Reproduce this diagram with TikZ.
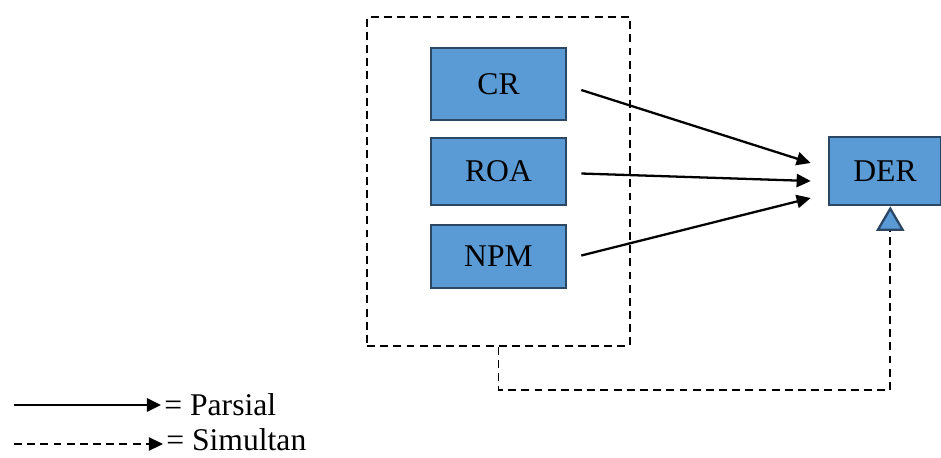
\documentclass[tikz,border=0pt]{standalone}
\usepackage{fontspec}
\setmainfont{Liberation Serif}
\usetikzlibrary{arrows.meta,calc}
\definecolor{boxblue}{HTML}{5B9BD5}
\definecolor{boxline}{HTML}{2B4764}

\begin{document}
\begin{tikzpicture}[x=0.02cm, y=-0.02cm,
    var/.style={draw=boxline, fill=boxblue, line width=1.5pt, inner sep=0pt,
        minimum width=2.7cm, font=\fontsize{18}{20}\selectfont},
    parsial/.style={-{Triangle[length=8pt, width=7.5pt]}, line width=1.3pt},
    simultan/.style={dash pattern=on 4.5pt off 3pt, line width=1pt},
    legend/.style={anchor=base west, inner sep=0pt, font=\fontsize{18}{20}\selectfont}]
    \useasboundingbox (0,0) rectangle (941,457);

    % variabel bebas dalam kotak putus-putus
    \node[simultan, draw, inner sep=0pt, minimum width=5.26cm, minimum height=6.58cm] (group) at (498.5,181.5) {};
    \node[var, minimum height=1.44cm] (cr) at (498.5,84) {CR};
    \node[var, minimum height=1.34cm] (roa) at (498.5,171.5) {ROA};
    \node[var, minimum height=1.26cm] (npm) at (498.5,256.5) {NPM};
    \node[var, minimum width=2.24cm, minimum height=1.36cm] (der) at (885,171) {DER};

    \draw[parsial] ($(cr.east)+(14,6)$) -- ($(der.west)+(-17,-8)$);
    \draw[parsial] ($(roa.east)+(14,2)$) -- ($(der.west)+(-17,10)$);
    \draw[parsial] ($(npm.east)+(14,-1)$) -- ($(der.west)+(-17,27)$);

    \draw[simultan, -{Triangle[length=14pt, width=16pt, color=boxline, fill=boxblue, line width=1.3pt]}]
        (group.south) -- ++(0,43) -| ([xshift=3]der.south);

    % keterangan
    \coordinate (p0) at (14,405);
    \coordinate (s0) at (14,444);
    \node[legend] (lp) at (164,415) {= Parsial};
    \node[legend] (ls) at (166,450) {= Simultan};
    \draw[parsial] (p0) -- ($(p0 -| lp.west)+(-3,0)$);
    \draw[simultan, -{Triangle[length=8pt, width=7.5pt]}] (s0) -- ($(s0 -| ls.west)+(-3,0)$);
\end{tikzpicture}
\end{document}
